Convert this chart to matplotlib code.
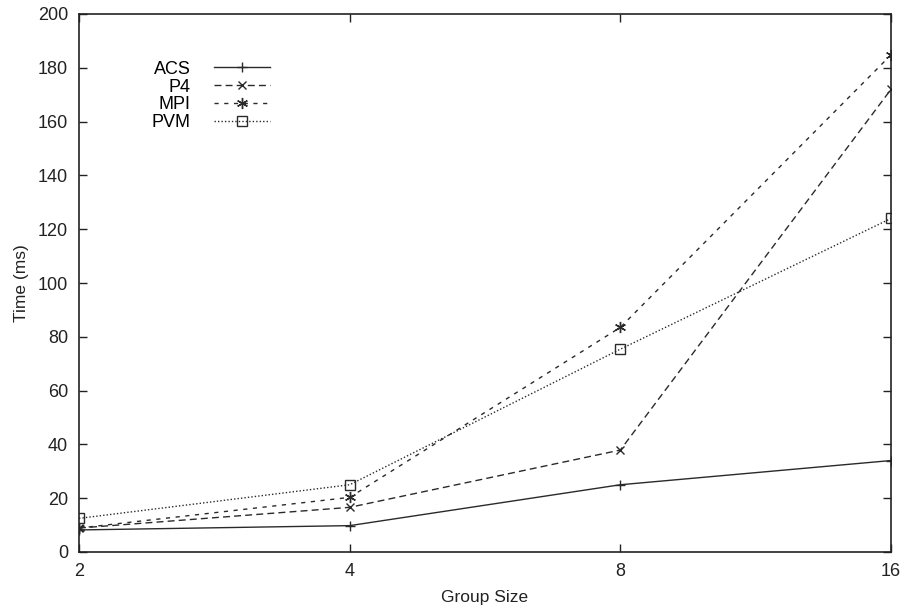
import numpy as np
import matplotlib.pyplot as plt

plt.rcParams['font.family'] = ['Liberation Sans', 'DejaVu Sans']

# group sizes and timings (ms)
group_size = [2, 4, 8, 16]
acs = [8.2, 9.8, 25.0, 34.0]
p4 = [8.9, 16.6, 37.9, 172.0]
mpi = [8.9, 20.3, 83.5, 184.8]
pvm = [12.5, 25.0, 75.4, 124.0]

fig = plt.figure(figsize=(9.08, 6.11), dpi=100)
ax = fig.add_axes([79/908, 59/611, 812/908, 538/611])

col = '#2a2a2a'
ax.plot(group_size, acs, color=col, lw=1.0, ls='-', marker='+', ms=7, mew=1.0, label='ACS')
ax.plot(group_size, p4, color=col, lw=1.0, ls=(0, (5, 3)), marker='x', ms=6, mew=1.0, label='P4')
ax.plot(group_size, mpi, color=col, lw=1.0, ls=(0, (3, 4)), marker=(6, 2, 0), ms=8, mew=1.0, label='MPI')
ax.plot(group_size, pvm, color=col, lw=1.0, ls=(0, (1, 1.5)), marker='s', ms=6.5, mew=1.0,
        mfc='none', label='PVM')

ax.set_xscale('log', base=2)
ax.set_xlim(2, 16)
ax.set_ylim(0, 200)
ax.set_xticks(group_size)
ax.set_xticklabels([str(g) for g in group_size])
ax.xaxis.set_minor_locator(plt.NullLocator())
ax.set_yticks(np.arange(0, 201, 20))
ax.tick_params(direction='in', length=6, width=1, labelsize=13, colors='#222222',
               top=True, right=True, pad=8)
for s in ax.spines.values():
    s.set_linewidth(1.2)
    s.set_color('#222222')

ax.set_xlabel('Group Size', fontsize=12.5, color='#222222', labelpad=7)
ax.set_ylabel('Time (ms)', fontsize=12.5, color='#222222', labelpad=6)

ax.legend(loc='upper left', bbox_to_anchor=(0.078, 0.93), frameon=False, markerfirst=False,
          handlelength=3.1, fontsize=13, labelspacing=0.05, borderpad=0, handletextpad=1.3)

fig.savefig('out.png', dpi=100)
